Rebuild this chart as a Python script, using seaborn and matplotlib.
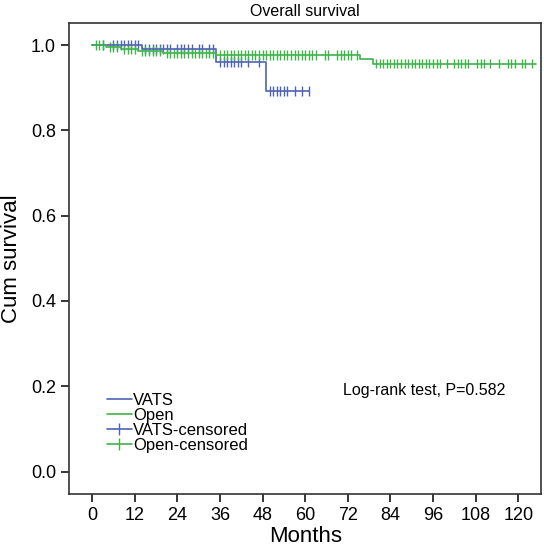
import matplotlib
matplotlib.use("Agg")
import matplotlib.pyplot as plt
from matplotlib.lines import Line2D
import pandas as pd
import seaborn as sns

# survival step data
vats_times = [0, 14, 35, 49, 61]
vats_surv = [1.0, 0.992, 0.960, 0.892, 0.892]
open_times = [0, 4, 8, 13, 20, 35, 75.5, 79, 125]
open_surv = [1.0, 0.996, 0.992, 0.987, 0.981, 0.977, 0.968, 0.957, 0.957]

# censored follow-up times
vats_cens = [3, 6, 7, 8, 9, 10, 11, 12, 13, 15, 16, 17, 18, 19, 20, 21, 22, 24, 25,
             26, 27, 28, 30, 31, 33, 34, 36, 37, 38, 39, 40, 41, 42, 44, 47,
             50, 51, 52, 53, 54, 55, 57, 59, 61]
open_cens = [1, 2, 3, 5, 6, 7, 9, 10, 11, 12, 14, 15, 16, 17, 18, 19, 21, 22, 23, 24,
             25, 26, 27, 28, 29, 30, 31, 32, 33, 34, 36, 37, 38, 39, 40, 41, 42, 43,
             44, 45, 46, 47, 48, 49, 50, 51, 52, 53, 54, 55, 56, 57, 58, 59, 60, 61,
             62, 63, 65.5, 66.5, 69, 70, 71, 72, 73, 74.5, 80, 81, 82, 83, 84, 85, 86,
             87, 88, 89, 90, 91, 92, 93, 94, 95, 96, 97, 98, 100, 102, 103, 104, 105,
             106, 108.5, 109.5, 110.5, 112, 114.6, 117, 118, 119, 121, 122, 124]

x_ticks = [0, 12, 24, 36, 48, 60, 72, 84, 96, 108, 120]
y_ticks = [0.0, 0.2, 0.4, 0.6, 0.8, 1.0]

blue = "#4f63b3"
green = "#40b34b"


def surv_at(times, surv, t):
    s = surv[0]
    for ti, si in zip(times, surv):
        if ti <= t:
            s = si
    return s


curves = pd.concat([
    pd.DataFrame({"t": vats_times, "s": vats_surv, "grp": "VATS"}),
    pd.DataFrame({"t": open_times, "s": open_surv, "grp": "Open"}),
])
cens = pd.concat([
    pd.DataFrame({"t": vats_cens, "s": [surv_at(vats_times, vats_surv, t) for t in vats_cens], "grp": "VATS"}),
    pd.DataFrame({"t": open_cens, "s": [surv_at(open_times, open_surv, t) for t in open_cens], "grp": "Open"}),
])

sns.set_style("ticks")
plt.rcParams["font.family"] = ["Liberation Sans", "DejaVu Sans"]
plt.rcParams["text.color"] = "black"
plt.rcParams["axes.labelcolor"] = "black"
plt.rcParams["xtick.color"] = "black"
plt.rcParams["ytick.color"] = "black"

fig = plt.figure(figsize=(5.44, 5.49), dpi=100)
ax = fig.add_axes([0.127, 0.100, 0.868, 0.858])

pal = {"VATS": blue, "Open": green}
sns.lineplot(data=curves, x="t", y="s", hue="grp", palette=pal, drawstyle="steps-post",
             estimator=None, linewidth=1.2, legend=False, ax=ax)
sns.scatterplot(data=cens, x="t", y="s", hue="grp", palette=pal, marker="|", s=50,
                linewidth=1.0, legend=False, ax=ax)

ax.set_xlim(-6.5, 126.5)
ax.set_ylim(-0.053, 1.052)
ax.set_xticks(x_ticks)
ax.set_yticks(y_ticks)
ax.set_yticklabels([f"{v:.1f}" for v in y_ticks])
ax.tick_params(labelsize=13, length=6, width=1.1)
for sp in ax.spines.values():
    sp.set_visible(True)
    sp.set_color("#333333")
    sp.set_linewidth(1.2)

ax.set_xlabel("Months", fontsize=16, labelpad=1)
ax.set_ylabel("Cum survival", fontsize=16, labelpad=6)
ax.set_title("Overall survival", fontsize=11.5, pad=5)

handles = [
    Line2D([], [], color=blue, lw=1.2),
    Line2D([], [], color=green, lw=1.2),
    Line2D([], [], color=blue, lw=1.2, marker="|", markersize=8),
    Line2D([], [], color=green, lw=1.2, marker="|", markersize=8),
]
labels = ["VATS", "Open", "VATS-censored", "Open-censored"]
ax.legend(handles, labels, loc="upper left", bbox_to_anchor=(0.062, 0.232), frameon=False,
          fontsize=12, handlelength=1.5, handletextpad=0.1, labelspacing=0.0, borderpad=0)

ax.text(0.58, 0.22, "Log-rank test, P=0.582", transform=ax.transAxes, fontsize=11.5,
        va="center", ha="left")

fig.savefig("out.png", dpi=100)
